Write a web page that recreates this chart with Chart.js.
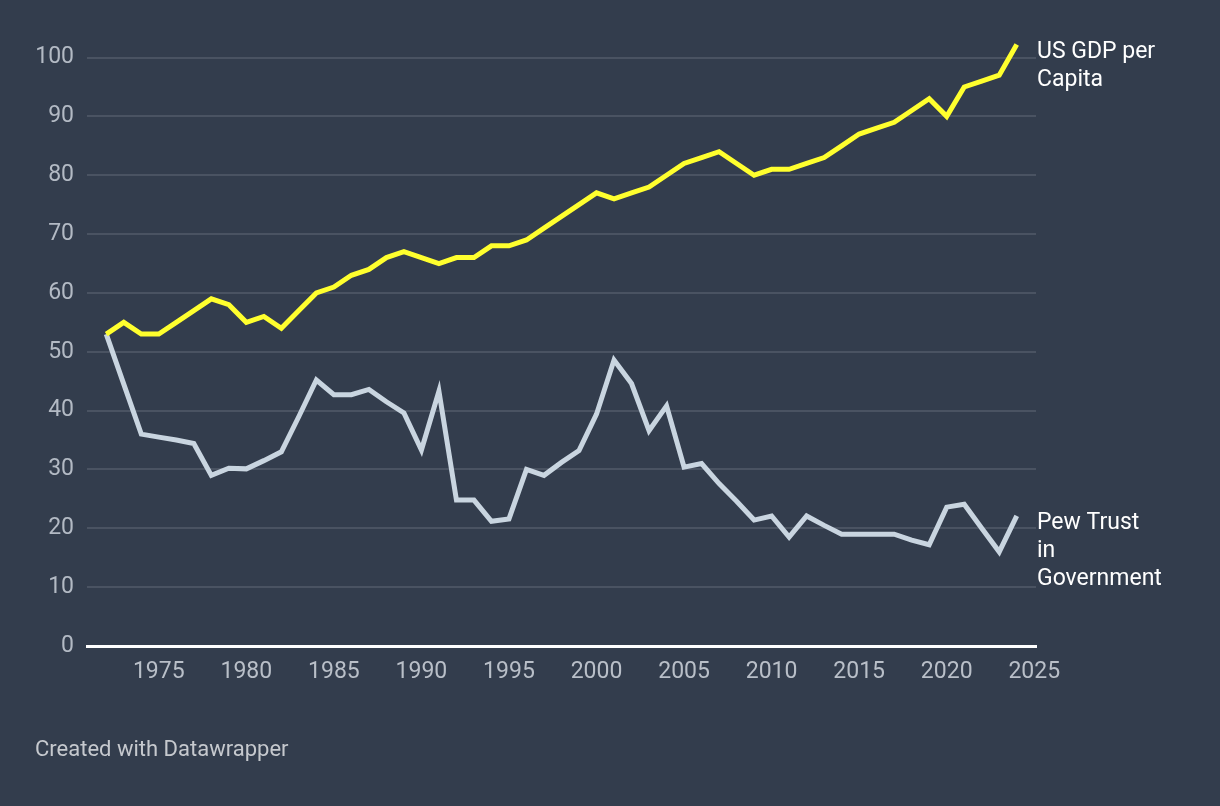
<!DOCTYPE html>
<html>
<head>
<meta charset="utf-8">
<script src="https://cdn.jsdelivr.net/npm/chart.js@4"></script>
<style>
  html, body { margin: 0; padding: 0; background: #333d4d; }
  #wrap { position: relative; width: 1220px; height: 806px; }
</style>
</head>
<body>
<div id="wrap"><canvas id="trustChart"></canvas></div>
<script>
const years = [];
for (let y = 1972; y <= 2024; y++) years.push(y);

const gdpValues = [
  53, 55, 53, 53, 55, 57, 59, 58, 55, 56,
  54, 57, 60, 61, 63, 64, 66, 67, 66, 65,
  66, 66, 68, 68, 69, 71, 73, 75, 77, 76,
  77, 78, 80, 82, 83, 84, 82, 80, 81, 81,
  82, 83, 85, 87, 88, 89, 91, 93, 90, 95,
  96, 97, 102.2
];

const trustValues = [
  53, 44.5, 36, 35.5, 35, 34.4, 29, 30.2, 30.1, 31.5,
  33, 39, 45.2, 42.7, 42.7, 43.6, 41.5, 39.6, 33.3, 43.3,
  24.8, 24.8, 21.2, 21.6, 30, 29, 31.2, 33.2, 39.4, 48.6,
  44.6, 36.6, 40.8, 30.4, 31, 27.6, 24.6, 21.4, 22.1, 18.5,
  22.1, 20.5, 19, 19, 19, 19, 18, 17.2, 23.6, 24.1,
  20, 16, 22.1
];

const xTicks = [1975, 1980, 1985, 1990, 1995, 2000, 2005, 2010, 2015, 2020, 2025];
const yTicks = [0, 10, 20, 30, 40, 50, 60, 70, 80, 90, 100];

const seriesNames = [["US GDP per", "Capita"], ["Pew Trust", "in", "Government"]];

const FONT = "Roboto, 'Noto Sans', sans-serif";

// labels at the end of each line + footer note
const endLabels = {
  id: "endLabels",
  afterDatasetsDraw(chart) {
    const ctx = chart.ctx;
    ctx.save();
    ctx.font = "23px " + FONT;
    ctx.fillStyle = "#ffffff";
    ctx.textAlign = "left";
    ctx.textBaseline = "alphabetic";
    chart.data.datasets.forEach((ds, i) => {
      const meta = chart.getDatasetMeta(i);
      const last = meta.data[meta.data.length - 1];
      const x = chart.chartArea.right + 1;
      seriesNames[i].forEach((line, k) => {
        ctx.fillText(line, x, last.y + 13 + k * 28);
      });
    });
    ctx.font = "22px " + FONT;
    ctx.fillStyle = "#c6c9ce";
    ctx.fillText("Created with Datawrapper", 35, 756);
    ctx.restore();
  }
};

const ctx = document.getElementById("trustChart").getContext("2d");

new Chart(ctx, {
  type: "line",
  data: {
    datasets: [{
      label: "US GDP per Capita",
      data: years.map((y, i) => ({ x: y, y: gdpValues[i] })),
      borderColor: "#ffff2e",
      borderWidth: 5,
      pointRadius: 0,
      tension: 0,
      fill: false
    }, {
      label: "Pew Trust in Government",
      data: years.map((y, i) => ({ x: y, y: trustValues[i] })),
      borderColor: "#c9d5e0",
      borderWidth: 5,
      pointRadius: 0,
      tension: 0,
      fill: false
    }]
  },
  options: {
    responsive: true,
    maintainAspectRatio: false,
    animation: false,
    layout: { padding: { left: 0, right: 184, top: 34, bottom: 115 } },
    plugins: {
      legend: { display: false },
      tooltip: { enabled: false }
    },
    scales: {
      x: {
        type: "linear",
        min: 1970.9,
        max: 2025.1,
        afterBuildTicks: s => { s.ticks = xTicks.map(v => ({ value: v })); },
        afterFit: s => { s.height = 45; },
        grid: { display: false, drawTicks: false },
        border: { display: true, color: "#ffffff", width: 3 },
        ticks: {
          padding: 12,
          color: "#b9bfc8",
          font: { family: FONT, size: 23 },
          callback: v => String(v),
          maxRotation: 0,
          autoSkip: false
        }
      },
      y: {
        min: 0,
        max: 104,
        afterBuildTicks: s => { s.ticks = yTicks.map(v => ({ value: v })); },
        afterFit: s => { s.width = 87; },
        grid: { color: "#4a5362", lineWidth: 2, drawTicks: false },
        border: { display: false },
        ticks: {
          padding: 13,
          color: "#b3bac4",
          font: { family: FONT, size: 23 }
        }
      }
    }
  },
  plugins: [endLabels]
});
</script>
</body>
</html>
